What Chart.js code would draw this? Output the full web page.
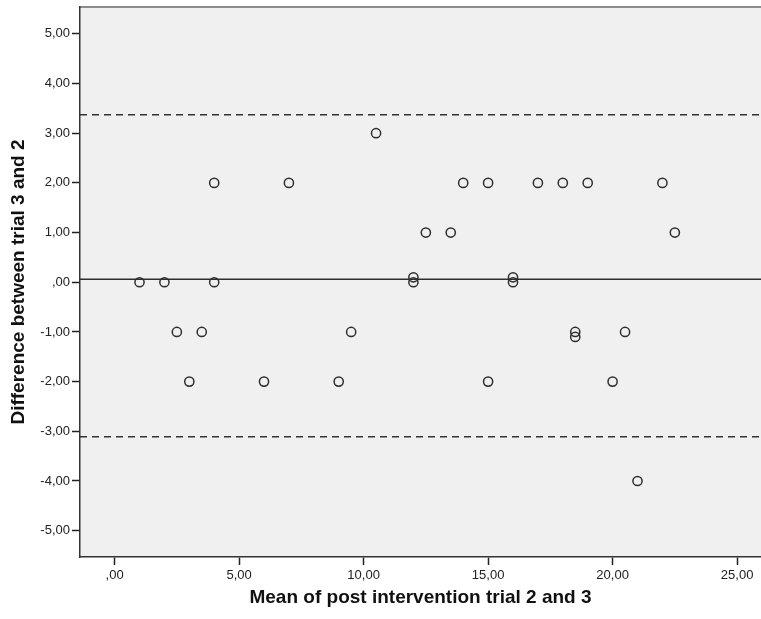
<!DOCTYPE html>
<html>
<head>
<meta charset="utf-8">
<script src="https://cdn.jsdelivr.net/npm/chart.js@4/dist/chart.umd.min.js"></script>
<style>
  body { margin: 0; background: #fff; overflow: hidden; }
  #wrap { width: 761px; height: 619px; }
</style>
</head>
<body>
<div id="wrap"><canvas id="myChart" width="761" height="619"></canvas></div>
<script>
// values
const meanX = [1, 2, 2.5, 3, 3.5, 4, 4, 6, 7, 9, 9.5, 10.5, 12, 12, 12.5, 13.5, 14, 15, 15, 16,
               16, 17, 18, 18.5, 18.5, 19, 20, 20.5, 21, 22, 22.5];
const diffY = [0, 0, -1, -2, -1, 2, 0, -2, 2, -2, -1, 3, 0.1, 0, 1, 1, 2, 2, -2, 0.1,
               0, 2, 2, -1, -1.1, 2, -2, -1, -4, 2, 1];
const meanDiff = 0.06;
const upperLimit = 3.37;
const lowerLimit = -3.11;
const xTicks = [0, 5, 10, 15, 20, 25];
const yTicks = [-5, -4, -3, -2, -1, 0, 1, 2, 3, 4, 5];
const xRange = [-1.39, 25.96];
const yRange = [-5.53, 5.54];

const fmt = (v) => v === 0 ? ",00" : v.toFixed(2).replace(".", ",");
const hline = (y) => [{ x: xRange[0], y: y }, { x: xRange[1], y: y }];

const plotBg = {
    id: "plotBg",
    beforeDraw(chart) {
        const { ctx, chartArea: a } = chart;
        ctx.save();
        ctx.fillStyle = "#f0f0f0";
        ctx.fillRect(a.left, a.top, a.right - a.left, a.bottom - a.top);
        ctx.strokeStyle = "#8c8c8c";
        ctx.lineWidth = 2;
        ctx.beginPath();
        ctx.moveTo(a.left, a.top);
        ctx.lineTo(a.right, a.top);
        ctx.stroke();
        ctx.restore();
    },
};

const ctx = document.getElementById("myChart").getContext("2d");
const myChart = new Chart(ctx, {
    type: "scatter",
    data: {
        datasets: [
            {
                data: meanX.map((x, i) => ({ x: x, y: diffY[i] })),
                pointStyle: "circle",
                pointRadius: 4.6,
                borderColor: "#2e2e2e",
                borderWidth: 1.5,
                backgroundColor: "rgba(0,0,0,0)",
            },
            {
                type: "line",
                data: hline(meanDiff),
                borderColor: "#2e2e2e",
                borderWidth: 1.4,
                pointRadius: 0,
            },
            {
                type: "line",
                data: hline(upperLimit),
                borderColor: "#333",
                borderWidth: 1.4,
                borderDash: [7, 5],
                pointRadius: 0,
            },
            {
                type: "line",
                data: hline(lowerLimit),
                borderColor: "#333",
                borderWidth: 1.4,
                borderDash: [7, 5],
                pointRadius: 0,
            },
        ],
    },
    options: {
        responsive: false,
        animation: false,
        layout: { autoPadding: false, padding: { top: 7, right: 0, bottom: 0, left: 0 } },
        scales: {
            x: {
                type: "linear",
                min: xRange[0],
                max: xRange[1],
                afterBuildTicks: (s) => { s.ticks = xTicks.map((v) => ({ value: v })); },
                afterFit: (s) => { s.height = 62; s.paddingLeft = 0; s.paddingRight = 0; },
                ticks: {
                    color: "#222",
                    font: { family: "Arial, 'Liberation Sans'", size: 13 },
                    padding: 3,
                    maxRotation: 0,
                    callback: (v) => fmt(v),
                },
                grid: { drawOnChartArea: false, drawTicks: true, tickLength: 8, tickColor: "#222", tickWidth: 1.5 },
                border: { display: true, color: "#333", width: 1.5 },
                title: {
                    display: true,
                    text: "Mean of post intervention trial 2 and 3",
                    color: "#111",
                    font: { family: "Arial, 'Liberation Sans'", size: 19, weight: "bold" },
                    padding: { top: 4, bottom: 10 },
                },
            },
            y: {
                type: "linear",
                min: yRange[0],
                max: yRange[1],
                afterBuildTicks: (s) => { s.ticks = yTicks.map((v) => ({ value: v })); },
                afterFit: (s) => { s.width = 80; s.paddingTop = 0; s.paddingBottom = 0; },
                ticks: {
                    color: "#222",
                    font: { family: "Arial, 'Liberation Sans'", size: 13 },
                    padding: 2,
                    callback: (v) => fmt(v),
                },
                grid: { drawOnChartArea: false, drawTicks: true, tickLength: 8, tickColor: "#222", tickWidth: 1.5 },
                border: { display: true, color: "#333", width: 1.5 },
                title: {
                    display: true,
                    text: "Difference between trial 3 and 2",
                    color: "#111",
                    font: { family: "Arial, 'Liberation Sans'", size: 19, weight: "bold" },
                    padding: { top: 7, bottom: 4 },
                },
            },
        },
        plugins: {
            legend: { display: false },
            tooltip: { enabled: false },
        },
    },
    plugins: [plotBg],
});
</script>
</body>
</html>
